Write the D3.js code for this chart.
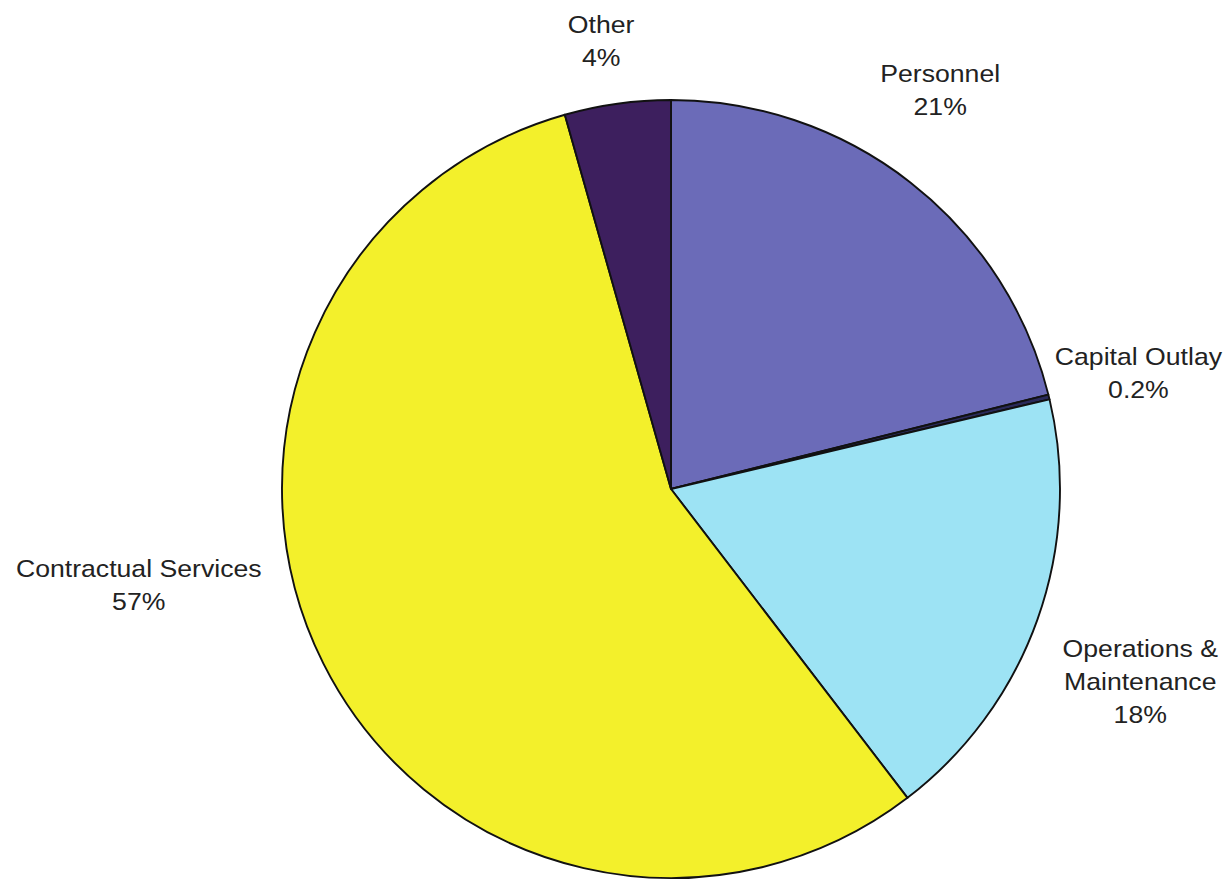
<!DOCTYPE html>
<meta charset="utf-8">
<head>
    <script src="https://d3js.org/d3.v7.min.js"></script>
    <style>
        body { margin: 0; background: #fff; }
        text { font-family: "Liberation Sans", Arial, Helvetica, sans-serif; fill: #222; }
    </style>
</head>
<body>
    <svg></svg>
    <script>

    // data
    var categories = ["Personnel", "Capital Outlay", "Operations & Maintenance", "Contractual Services", "Other"];
    var values = [21.1, 0.2, 18.3, 56.0, 4.4];
    var pctLabels = ["21%", "0.2%", "18%", "57%", "4%"];
    var labelLines = [["Personnel"], ["Capital Outlay"], ["Operations &", "Maintenance"], ["Contractual Services"], ["Other"]];
    var colors = ["#6b6bb8", "#2a2a5a", "#9de3f4", "#f3f02b", "#3d1f5e"];

    var width = 1228,
        height = 882,
        radius = 389,
        cx = 671,
        cy = 489,
        labelRadius = 478,
        lineHeight = 33,
        fontSize = 24;

    // excel style best-fit labels are pushed off the plain centroid a bit
    var nudge = {
        "Personnel": [-25, -22],
        "Capital Outlay": [3, -3],
        "Operations & Maintenance": [19, 32],
        "Contractual Services": [-105, -118],
        "Other": [-4, 25]
    };

    var svg = d3.select('svg')
        .attr('width', width)
        .attr('height', height);

    var g = svg.append('g')
        .attr('transform', 'translate(' + cx + ',' + cy + ')');

    var data = categories.map(function(c, i) {
        return { name: c, value: values[i], pct: pctLabels[i], lines: labelLines[i], color: colors[i] };
    });

    var pie = d3.pie()
        .sort(null)
        .value(function(d) { return d.value; });

    var arc = d3.arc()
        .innerRadius(0)
        .outerRadius(radius);

    var labelArc = d3.arc()
        .innerRadius(labelRadius)
        .outerRadius(labelRadius);

    var arcs = pie(data);

    g.selectAll('path')
        .data(arcs)
        .enter()
        .append('path')
        .attr('d', arc)
        .style('fill', function(d) { return d.data.color; })
        .style('stroke', '#111')
        .style('stroke-width', 1.9)
        .style('stroke-linejoin', 'round');

    var labels = g.selectAll('.label')
        .data(arcs)
        .enter()
        .append('g')
        .attr('class', 'label')
        .attr('transform', function(d) {
            var c = labelArc.centroid(d);
            var n = nudge[d.data.name];
            var lines = d.data.lines.length + 1;
            var x = c[0] + n[0];
            var y = c[1] + n[1] - (lines - 1) * lineHeight / 2 + fontSize * 0.36;
            // text in the original is a little wider than plain Arial
            return 'translate(' + x + ',' + y + ') scale(1.11,1)';
        });

    labels.selectAll('text')
        .data(function(d) { return d.data.lines.concat([d.data.pct]); })
        .enter()
        .append('text')
        .attr('text-anchor', 'middle')
        .attr('y', function(d, i) { return i * lineHeight; })
        .style('font-size', fontSize + 'px')
        .text(function(d) { return d; });

    </script>
</body>
</html>
